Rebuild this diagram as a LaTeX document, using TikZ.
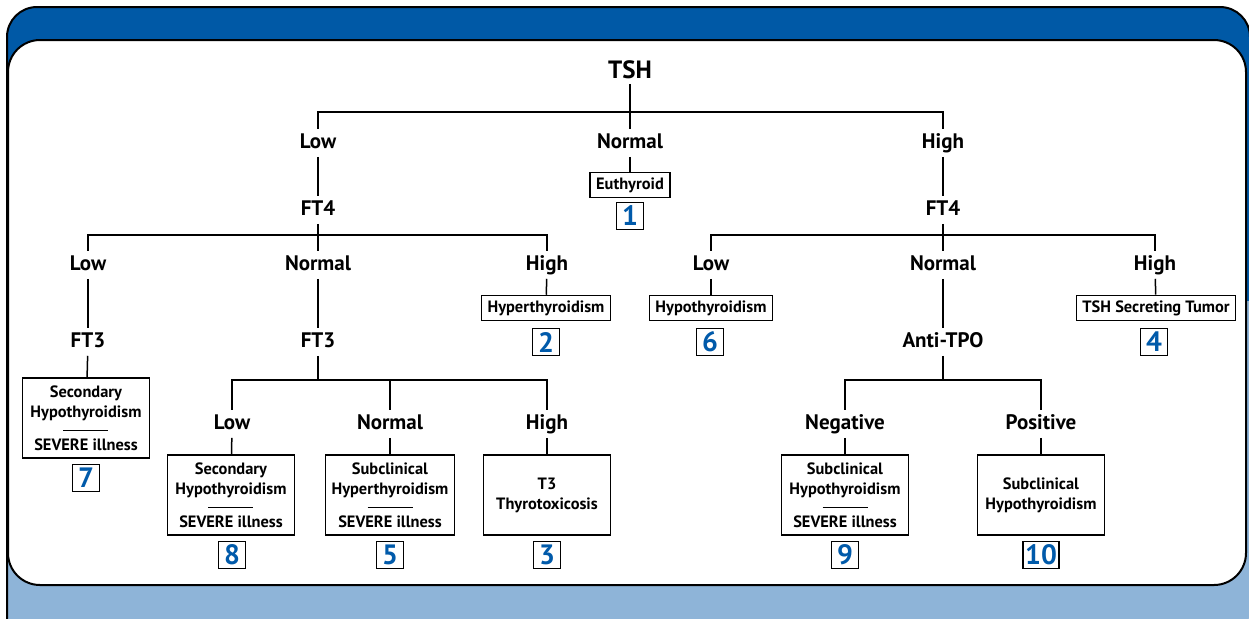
\documentclass[tikz,border=0pt]{standalone}
\usepackage{fontspec}
\setmainfont{PT Sans}
\usepackage{xcolor}
\definecolor{hdrblue}{RGB}{0,89,166}
\definecolor{ftrblue}{RGB}{142,180,216}
\definecolor{numblue}{RGB}{0,90,170}
\newcommand{\sevrule}{\\[-3pt]\rule{22.5pt}{0.6pt}\\[-0.5pt]}

\begin{document}
\begin{tikzpicture}[x=0.5pt,y=-0.5pt,line width=0.75pt,
    head/.style={font=\fontsize{12.5}{14}\selectfont\bfseries,inner sep=2pt},
    lbl/.style={font=\fontsize{10.5}{12}\selectfont\bfseries,inner sep=2pt,text height=7.4pt,text depth=1.6pt},
    res/.style={draw,font=\fontsize{8.2}{10}\selectfont\bfseries,inner xsep=3pt,inner ysep=2.5pt,minimum height=12.5pt},
    bigres/.style={res,align=center,minimum width=63.5pt,minimum height=40pt},
    num/.style={draw,font=\fontsize{14}{14}\selectfont\bfseries,text=numblue,minimum size=13.5pt,inner sep=1pt}]
    \useasboundingbox (0,0) rectangle (1249,618);

    % frame
    \begin{scope}
        \fill[ftrblue,rounded corners=15] (7,7) rectangle (1250,640);
        \clip (0,0) rectangle (1249,300);
        \fill[hdrblue,rounded corners=15] (7,7) rectangle (1250,640);
    \end{scope}
    \draw[line width=1pt,rounded corners=15] (7,640) -- (7,7) -- (1250,7) -- (1250,640);
    \draw[fill=white,line width=1pt,rounded corners=16] (8,40) rectangle (1246,585);

    \node[head] (tsh) at (630,70) {TSH};

    \node[lbl] (l1) at (318,143) {Low};
    \node[lbl] (m1) at (630,143) {Normal};
    \node[lbl] (h1) at (943,143) {High};

    \node[res] (eu) at (630,185) {Euthyroid};
    \node[num] (n1) at (630,216) {1};

    \node[lbl] (f1) at (318,210) {FT4};
    \node[lbl] (f2) at (943,210) {FT4};

    % left FT4
    \node[lbl] (a1) at (88,265) {Low};
    \node[lbl] (a2) at (318,265) {Normal};
    \node[lbl] (a3) at (547,265) {High};

    \node[lbl] (g1) at (88,342) {FT3};
    \node[bigres] (r7) at (86,418) {Secondary\\Hypothyroidism\sevrule SEVERE illness};
    \node[num] (n7) at (86,478) {7};

    \node[res] (r2) at (546,308) {Hyperthyroidism};
    \node[num] (n2) at (546,342) {2};

    \node[lbl] (g2) at (318,342) {FT3};
    \node[lbl] (c1) at (232,424) {Low};
    \node[lbl] (c2) at (390,424) {Normal};
    \node[lbl] (c3) at (547,424) {High};

    \node[bigres] (r8) at (231,495) {Secondary\\Hypothyroidism\sevrule SEVERE illness};
    \node[bigres] (r5) at (390,495) {Subclinical\\Hyperthyroidism\sevrule SEVERE illness};
    \node[bigres] (r3) at (547,495) {T3\\Thyrotoxicosis};
    \node[num] (n8) at (232,555) {8};
    \node[num] (n5) at (390,555) {5};
    \node[num] (n3) at (547,555) {3};

    % right FT4
    \node[lbl] (d1) at (711,265) {Low};
    \node[lbl] (d2) at (943,265) {Normal};
    \node[lbl] (d3) at (1155,265) {High};

    \node[res] (r6) at (711,308) {Hypothyroidism};
    \node[num] (n6) at (710,342) {6};
    \node[res] (r4) at (1156,308) {TSH Secreting Tumor};
    \node[num] (n4) at (1154,342) {4};

    \node[lbl] (tpo) at (943,342) {Anti-TPO};
    \node[lbl] (e1) at (845,424) {Negative};
    \node[lbl] (e2) at (1041,424) {Positive};

    \node[bigres] (r9) at (845,495) {Subclinical\\Hypothyroidism\sevrule SEVERE illness};
    \node[bigres] (r10) at (1041,495) {Subclinical\\Hypothyroidism};
    \node[num] (n9) at (845,555) {9};
    \node[num] (n10) at (1041,555) {10};

    % branch points
    \coordinate (b0) at (630,112);
    \coordinate (b1) at (318,235);
    \coordinate (b2) at (318,380);
    \coordinate (b3) at (943,235);
    \coordinate (b4) at (943,380);

    \path[elbow/.style={to path={-| (\tikztotarget)}}]
        (tsh) edge (b0)
        (b0) edge[elbow] (l1)
        (b0) edge[elbow] (m1)
        (b0) edge[elbow] (h1)
        (l1) edge (f1)
        (m1) edge (eu)
        (h1) edge (f2)

        (f1) edge (b1)
        (b1) edge[elbow] (a1)
        (b1) edge[elbow] (a2)
        (b1) edge[elbow] (a3)
        (a1) edge (g1)
        (g1) edge (r7)
        (a3) edge (r2)
        (a2) edge (g2)
        (g2) edge (b2)
        (b2) edge[elbow] (c1)
        (b2) edge[elbow] (c2)
        (b2) edge[elbow] (c3)
        (c1) edge (r8)
        (c2) edge (r5)
        (c3) edge (r3)

        (f2) edge (b3)
        (b3) edge[elbow] (d1)
        (b3) edge[elbow] (d2)
        (b3) edge[elbow] (d3)
        (d1) edge (r6)
        (d3) edge (r4)
        (d2) edge (tpo)
        (tpo) edge (b4)
        (b4) edge[elbow] (e1)
        (b4) edge[elbow] (e2)
        (e1) edge (r9)
        (e2) edge (r10)
        ;
\end{tikzpicture}
\end{document}
